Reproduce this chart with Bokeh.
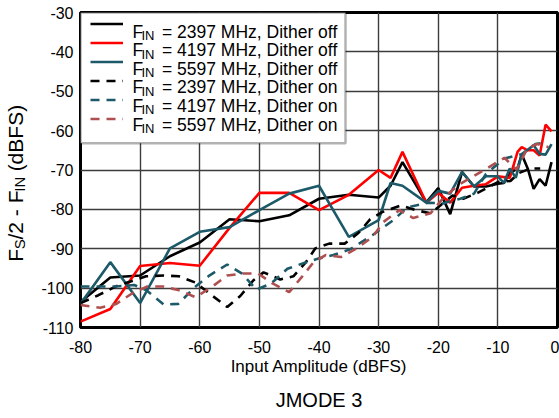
import math
from bokeh.plotting import figure
from bokeh.models import Label, Legend, LegendItem, Range1d, FixedTicker, BoxAnnotation, Title
from bokeh.layouts import row
from bokeh.embed import file_html
from bokeh.resources import INLINE

# ---------------- data ----------------
x_ticks = [-80, -70, -60, -50, -40, -30, -20, -10, 0]
y_ticks = [-110, -100, -90, -80, -70, -60, -50, -40, -30]

# Dither off, solid lines
off_2397_x = [-80, -75, -70, -65, -60, -55, -50, -45, -40, -35, -30, -28, -26, -22, -20, -18, -16,
              -14, -12, -10, -9, -8, -6.7, -6, -5, -4, -3, -2, -1]
off_2397_y = [-103.5, -97.3, -96.8, -91.9, -88.4, -82.5, -83, -81.5, -77.3, -76.3, -77, -74, -68, -78.2,
              -74.6, -81.2, -70.5, -74.2, -74.2, -73.5, -73.3, -70.8, -69.6, -66, -69.6, -74.8, -72.3,
              -74, -68]

off_4197_x = [-80, -75, -70, -65, -60, -55, -50, -45, -40, -35, -30, -28, -26, -22, -20, -18, -16,
              -14, -12, -10, -8, -6.7, -6, -5, -4, -3, -2, -1]
off_4197_y = [-108.5, -105.3, -94.4, -93.6, -94.3, -84.7, -75.8, -75.8, -80.2, -76.3, -70, -72, -65.4,
              -78.3, -75.8, -78.3, -74.5, -74, -73.6, -71.6, -72, -65.4, -64.2, -65, -65, -66.3, -58.5,
              -60.2]

off_5597_x = [-80, -75, -70, -65, -60, -55, -50, -45, -40, -35, -30, -28, -26, -22, -20, -18, -16,
              -14, -12, -10, -9, -8, -7, -6, -4, -3, -2, -1]
off_5597_y = [-104, -93.4, -103.8, -89.9, -85.7, -84.5, -80.2, -76, -74, -87, -82.7, -73.3, -74, -78.3,
              -75.3, -76, -70.5, -74.2, -71.6, -71.6, -73.3, -69.6, -72, -66, -63.7, -65.9, -66.1, -63.4]

# Dither on, dashed lines
on_2397_x = [-80, -77, -74, -71, -69, -66, -63.5, -60.7, -58, -55.4, -53.2, -51, -49.3, -46.5, -44.3,
             -42.3, -40.6, -38.3, -35.7, -33.4, -31.4, -29.4, -26.3, -23.8, -21.3, -17.6, -15.8,
             -13.4, -9.9, -7.9, -6.5, -4.5, -2.9]
on_2397_y = [-103.8, -101.8, -99.5, -98, -97, -96.8, -97, -98.6, -101.8, -104.8, -102, -98, -96,
             -97.8, -97, -93.6, -89.9, -88.7, -88.7, -86, -82.5, -80.7, -79, -80.2, -81, -76.5,
             -77.3, -75.8, -73, -72.8, -70.8, -69.6, -69.6]

on_4197_x = [-80, -74.2, -71, -69, -66, -63.6, -60.7, -58.4, -55.4, -52.9, -50.5, -48, -45.3, -42.5,
             -40.1, -37.6, -34.7, -31, -27.5, -25.2, -21.6, -19.3, -16.3, -14, -12, -8.9, -6, -3.7,
             -1.7]
on_4197_y = [-99.6, -99.6, -99.2, -100.5, -104.2, -104, -99.6, -96.8, -94, -96.3, -100.4, -98.8,
             -95.1, -93.6, -92.5, -91.6, -90.1, -86.5, -82.7, -79.5, -78.3, -78.5, -77.3, -76, -71,
             -67.1, -66, -63.4, -63]

on_5597_x = [-80, -76.7, -74, -71.3, -68.8, -66.1, -63.6, -60.7, -57.9, -55.4, -52.9, -50.2, -47.8,
             -45, -42.8, -41, -38.9, -36.3, -33.9, -31, -29.2, -26.5, -24.2, -21.3, -19.1, -16.4,
             -12.4, -8.9, -6.9, -5, -3.4, -1.5]
on_5597_y = [-104.3, -105, -104, -101.3, -99.6, -99.6, -100.5, -102.3, -99.6, -96.8, -96.3, -96.3,
             -98.8, -101, -97, -93.6, -91.6, -92.1, -90.1, -87, -83.2, -80.2, -82.2, -81, -77, -73.6,
             -70.1, -66.9, -69.9, -64.4, -63.4, -64.2]

freqs = ["2397", "4197", "5597", "2397", "4197", "5597"]
dithers = ["off", "off", "off", "on", "on", "on"]

# ---------------- styling ----------------
FONT = "Liberation Sans"
BLACK = "#000000"
RED = "#ff0000"
TEAL = "#1d5a69"
BROWN = "#b04f4f"
DASH = "9 7"

X0, X1, Y0, Y1 = -80, 0, -110, -30
LEFT_W = 30            # width of the strip that carries the rotated y-axis title
FW, FH = 477, 323      # frame size in px
FTOP = 12              # frame top (page px)

p = figure(width=559 - LEFT_W, height=418, output_backend="svg", toolbar_location=None,
           x_range=Range1d(X0, X1), y_range=Range1d(Y0, Y1),
           min_border_left=80 - LEFT_W, min_border_right=2, min_border_top=FTOP, min_border_bottom=83)
p.background_fill_color = "white"
p.border_fill_color = "white"
p.outline_line_color = "black"
p.outline_line_width = 3

p.xaxis.ticker = FixedTicker(ticks=x_ticks)
p.yaxis.ticker = FixedTicker(ticks=y_ticks)
p.xaxis.major_label_overrides = {t: str(t) for t in x_ticks}
p.yaxis.major_label_overrides = {t: str(t) for t in y_ticks}
for ax in (p.xaxis[0], p.yaxis[0]):
    ax.axis_line_color = None
    ax.major_tick_line_color = None
    ax.minor_tick_line_color = None
    ax.major_tick_in = 0
    ax.major_tick_out = 0
    ax.major_label_text_font = FONT
    ax.major_label_text_font_size = "16px"
    ax.major_label_text_color = "black"
    ax.axis_label_text_font = FONT
    ax.axis_label_text_font_style = "normal"
    ax.axis_label_text_color = "black"
p.xaxis.major_label_standoff = 13
p.yaxis.major_label_standoff = 7
p.xaxis.axis_label = "Input Amplitude (dBFS)"
p.xaxis.axis_label_text_font_size = "17px"
p.xaxis.axis_label_standoff = 1

p.grid.grid_line_color = "#3c3c3c"
p.grid.grid_line_width = 1.4

LW = 2.6
r1 = p.line(off_2397_x, off_2397_y, line_color=BLACK, line_width=LW)
r2 = p.line(off_4197_x, off_4197_y, line_color=RED, line_width=LW)
r3 = p.line(off_5597_x, off_5597_y, line_color=TEAL, line_width=LW)
r4 = p.line(on_2397_x, on_2397_y, line_color=BLACK, line_width=LW, line_dash=DASH)
r5 = p.line(on_4197_x, on_4197_y, line_color=TEAL, line_width=LW, line_dash=DASH)
r6 = p.line(on_5597_x, on_5597_y, line_color=BROWN, line_width=LW, line_dash=DASH)
renderers = [r1, r2, r3, r4, r5, r6]

# pixel offsets (relative to the frame's top-left corner) -> data coordinates for placement
def dx(px):
    return X0 + px * (X1 - X0) / FW

def dy(py):
    return Y1 - py * (Y1 - Y0) / FH

# legend box (white with black border)
p.add_layout(BoxAnnotation(left=dx(0), right=dx(265), top=dy(0), bottom=dy(134),
                           fill_color="white", fill_alpha=1.0,
                           line_color="black", line_width=2.5, level="annotation"))

# native legend draws only the line samples; the texts are labels (they need subscripts)
ROW = 19
legend = Legend(items=[LegendItem(label=" ", renderers=[r]) for r in renderers],
                location=(10, FH - 10 - 6 * ROW), orientation="vertical",
                glyph_width=33, glyph_height=ROW, label_height=ROW, label_width=10,
                label_standoff=0, spacing=0, padding=0, margin=0,
                label_text_font_size="1px",
                border_line_color=None, background_fill_alpha=0.0)
p.add_layout(legend, "center")

def lab(fig, text, x, y, size, angle=0.0, align="left", baseline="middle"):
    fig.add_layout(Label(x=x, y=y, text=text, level="overlay",
                         text_font=FONT, text_font_size=size, text_color="black",
                         text_align=align, text_baseline=baseline, angle=angle))

for i in range(6):
    yc = 19.5 + 19.1 * i
    lab(p, "F", dx(52), dy(yc), "17.5px")
    lab(p, "IN", dx(61), dy(yc + 4), "13px")
    lab(p, "= %s MHz, Dither %s" % (freqs[i], dithers[i]), dx(81.5), dy(yc), "17.5px")

p.add_layout(Title(text="JMODE 3", align="center", offset=-9, standoff=16,
                   text_font=FONT, text_font_size="20px", text_font_style="normal",
                   text_color="black"), "below")

# ---- left strip: rotated y-axis title  F_S/2 - F_IN (dBFS); y in px up from page bottom ----
# (the strip's frame is aligned with the chart frame, page y 12..335)
q = figure(width=LEFT_W, height=418, output_backend="svg", toolbar_location=None,
           x_range=Range1d(0, LEFT_W), y_range=Range1d(418 - (FTOP + FH), 418 - FTOP),
           x_axis_type=None, y_axis_type=None,
           min_border_left=0, min_border_right=0, min_border_top=FTOP, min_border_bottom=83)
q.outline_line_color = None
q.grid.visible = False
q.background_fill_color = "white"
q.border_fill_color = "white"

W = {"F": .611, "S": .667, "/": .278, "2": .556, " ": .278, "-": .333, "I": .278, "N": .722,
     "(": .333, ")": .333, "d": .556, "B": .667}
def width(s, px):
    return sum(W[c] for c in s) * px

MAIN, SUB = 21, 15
# (text, font px, offset across the text, leading gap in em of MAIN)
pieces = [("F", MAIN, 0, 0), ("S", SUB, 4, 0), ("/2 - F", MAIN, 0, 0), ("IN", SUB, 4, 0),
          ("(dBFS)", MAIN, 0, W[" "])]
total = sum(width(t, s) + g * MAIN for t, s, _, g in pieces)
pos = 418 - 188 - total / 2     # bottom end of the label
for t, s, off, g in pieces:
    pos += g * MAIN
    lab(q, t, 15 + off, pos, "%dpx" % s, angle=math.pi / 2)
    pos += width(t, s)

layout = row(q, p, spacing=0)
open("out.html", "w").write(file_html(layout, INLINE))
